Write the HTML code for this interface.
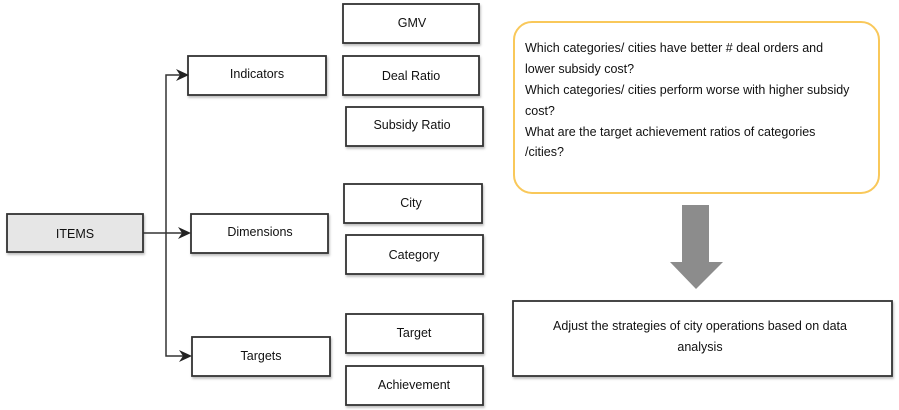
<!DOCTYPE html>
<html><head><meta charset="utf-8"><style>
html,body{margin:0;padding:0;background:#fff;}
svg{display:block;}
text{font-family:"Liberation Sans",sans-serif;font-size:12.5px;fill:#111;}
</style></head><body>
<svg width="899" height="410" viewBox="0 0 899 410" xmlns="http://www.w3.org/2000/svg">
<defs>
<filter id="sh" x="-5%" y="-5%" width="115%" height="130%"><feDropShadow dx="1" dy="2" stdDeviation="1" flood-color="#000" flood-opacity="0.25"/></filter>
</defs>
<g stroke="#333" stroke-width="1.8" fill="#fff" filter="url(#sh)">
<rect x="7" y="214" width="136" height="38" fill="#e6e6e6"/>
<rect x="188" y="56" width="138" height="39"/>
<rect x="191" y="214" width="137" height="39"/>
<rect x="192" y="337" width="138" height="39"/>
<rect x="343" y="4" width="136" height="39"/>
<rect x="343" y="56" width="136" height="39"/>
<rect x="346" y="107" width="137" height="39"/>
<rect x="344" y="184" width="138" height="39"/>
<rect x="346" y="235" width="137" height="39"/>
<rect x="346" y="314" width="137" height="39"/>
<rect x="346" y="366" width="137" height="39"/>
<rect x="513" y="301" width="379" height="75"/>
</g>
<g stroke="#333" stroke-width="1.5" fill="none">
<polyline points="186,75 166,75 166,356 188,356"/>
<line x1="143" y1="233" x2="188" y2="233"/>
</g>
<g fill="#222">
<polygon points="189,75 176,69 180,75 176,81"/>
<polygon points="191,233 178,227 182,233 178,239"/>
<polygon points="192,356 179,350 183,356 179,362"/>
</g>
<rect x="514" y="22" width="365" height="171" rx="18" fill="#fff" stroke="#f9c85a" stroke-width="2"/>
<polygon points="682,205 709,205 709,262 723,262 696,289 670,262 682,262" fill="#8c8c8c"/>
<g text-anchor="middle">
<text x="75" y="238">ITEMS</text>
<text x="257" y="78">Indicators</text>
<text x="260" y="236">Dimensions</text>
<text x="261" y="360">Targets</text>
<text x="412" y="27">GMV</text>
<text x="411" y="80">Deal Ratio</text>
<text x="412" y="129">Subsidy Ratio</text>
<text x="411" y="207">City</text>
<text x="414" y="259">Category</text>
<text x="414" y="337">Target</text>
<text x="414" y="389">Achievement</text>
<text x="700" y="330">Adjust the strategies of city operations based on data</text>
<text x="700" y="351">analysis</text>
</g>
<g>
<text x="525" y="52">Which categories/ cities have better # deal orders and</text>
<text x="525" y="73">lower subsidy cost?</text>
<text x="525" y="94">Which categories/ cities perform worse with higher subsidy</text>
<text x="525" y="115">cost?</text>
<text x="525" y="136">What are the target achievement ratios of categories</text>
<text x="525" y="156">/cities?</text>
</g>
</svg>
</body></html>
